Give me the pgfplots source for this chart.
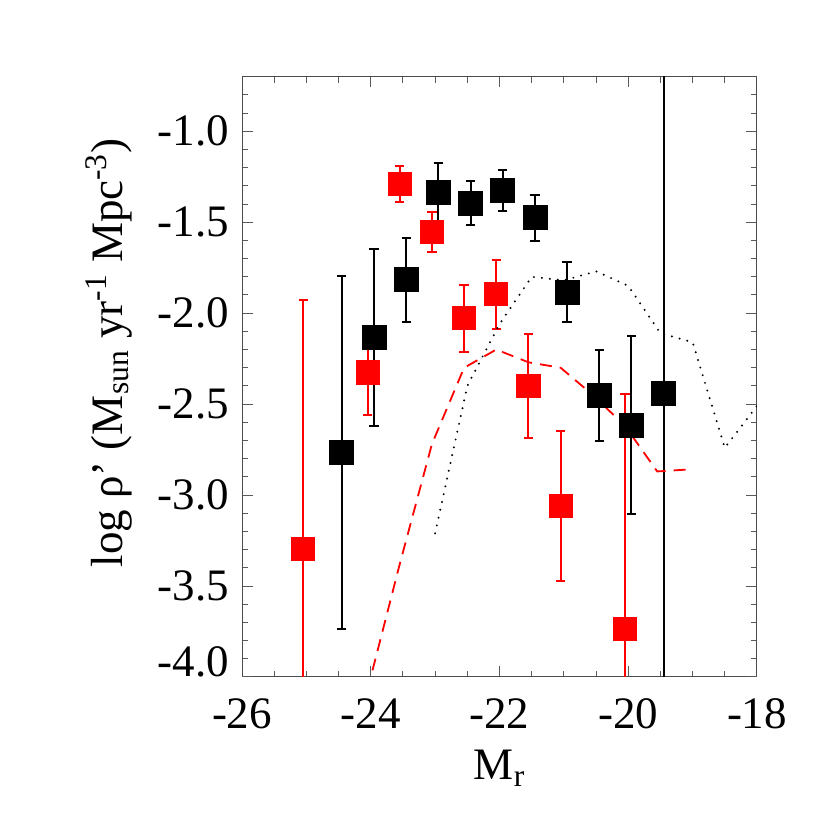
\documentclass[border=0pt]{standalone}
\usepackage{pgfplots}
\usepackage{pgfplotstable}
\pgfplotsset{compat=1.18}
\usepackage{fontspec}
\setmainfont{Liberation Serif}

\pgfplotstableread{
x y e
-25.05 -3.297 1.37
-24.05 -2.326 0.233
-23.55 -1.290 0.100
-23.05 -1.555 0.111
-22.55 -2.028 0.184
-22.05 -1.895 0.190
-21.55 -2.400 0.287
-21.05 -3.059 0.414
-20.05 -3.735 1.290
}\reddata

\pgfplotstableread{
x y e
-24.45 -2.764 0.970
-23.95 -2.134 0.485
-23.45 -1.817 0.233
-22.95 -1.335 0.160
-22.45 -1.396 0.121
-21.95 -1.326 0.113
-21.45 -1.476 0.127
-20.95 -1.885 0.165
-20.45 -2.450 0.250
-19.95 -2.615 0.490
-19.45 -2.440 3.000
}\blackdata

\begin{document}
\begin{tikzpicture}
\useasboundingbox (0,0) rectangle (415pt,415pt);
\begin{axis}[
  at={(121pt,76.5pt)}, anchor=south west,
  width=257.5pt, height=300.15pt, scale only axis,
  xmin=-26, xmax=-18, ymin=-4.0, ymax=-0.7,
  xtick={-26,-24,-22,-20,-18},
  xticklabels={-26,-24,-22,-20,-18},
  minor xtick={-25.5,-25,-24.5,-23.5,-23,-22.5,-21.5,-21,-20.5,-19.5,-19,-18.5},
  ytick={-3.5,-3.0,-2.5,-2.0,-1.5,-1.0},
  yticklabels={-3.5,-3.0,-2.5,-2.0,-1.5,-1.0},
  extra y ticks={-4.0},
  extra y tick labels={-4.0},
  extra y tick style={yticklabel style={yshift=7.5pt}},
  minor ytick={-3.9,-3.8,-3.7,-3.6,-3.4,-3.3,-3.2,-3.1,-2.9,-2.8,-2.7,-2.6,-2.4,-2.3,-2.2,-2.1,-1.9,-1.8,-1.7,-1.6,-1.4,-1.3,-1.2,-1.1,-0.9,-0.8},
  tick align=inside, tick pos=both,
  major tick length=5.3pt, minor tick length=3pt,
  axis line style={black!70, line width=0.5pt},
  every tick/.style={black!65, line width=0.5pt},
  ticklabel style={font=\fontsize{22.5}{27}\selectfont},
  xticklabel style={yshift=-7.5pt},
  yticklabel style={xshift=-3pt},
  xlabel={M\textsubscript{r}},
  ylabel={log ρ’ (M\textsubscript{sun} yr\textsuperscript{-1} Mpc\textsuperscript{-3})},
  every axis x label/.style={at={(rel axis cs:0.5,0)}, anchor=base, yshift=-51.5pt, font=\fontsize{22.5}{27}\selectfont},
  every axis y label/.style={at={(rel axis cs:-0.233,0.54)}, anchor=base, rotate=90, font=\fontsize{22.5}{27}\selectfont},
]
\addplot[red, only marks, mark=square*, mark size=5.8pt,
  error bars/.cd, y dir=both, y explicit,
  error bar style={line width=1pt, red},
  error mark options={rotate=90, mark size=2.3pt, line width=1pt, red}]
  table[x=x, y=y, y error=e] {\reddata};
\addplot[black, only marks, mark=square*, mark size=6pt,
  error bars/.cd, y dir=both, y explicit,
  error bar style={line width=1pt, black},
  error mark options={rotate=90, mark size=2.3pt, line width=1pt, black}]
  table[x=x, y=y, y error=e] {\blackdata};
\addplot[red, line width=0.9pt, dash pattern=on 6pt off 4pt] coordinates {
  (-24.05,-4.07) (-23.55,-3.38) (-23.05,-2.72) (-22.55,-2.30) (-22.05,-2.20)
  (-21.55,-2.27) (-21.05,-2.30) (-20.55,-2.45) (-20.05,-2.62) (-19.55,-2.87) (-19.1,-2.86)};
\addplot[black, line width=1.1pt, line cap=round, dash pattern=on 0pt off 4pt] coordinates {
  (-23,-3.21) (-22.5,-2.40) (-22,-2.06) (-21.5,-1.80) (-21,-1.82) (-20.5,-1.77)
  (-20,-1.85) (-19.5,-2.11) (-19,-2.16) (-18.5,-2.74) (-18,-2.51)};
\end{axis}
\end{tikzpicture}
\end{document}
